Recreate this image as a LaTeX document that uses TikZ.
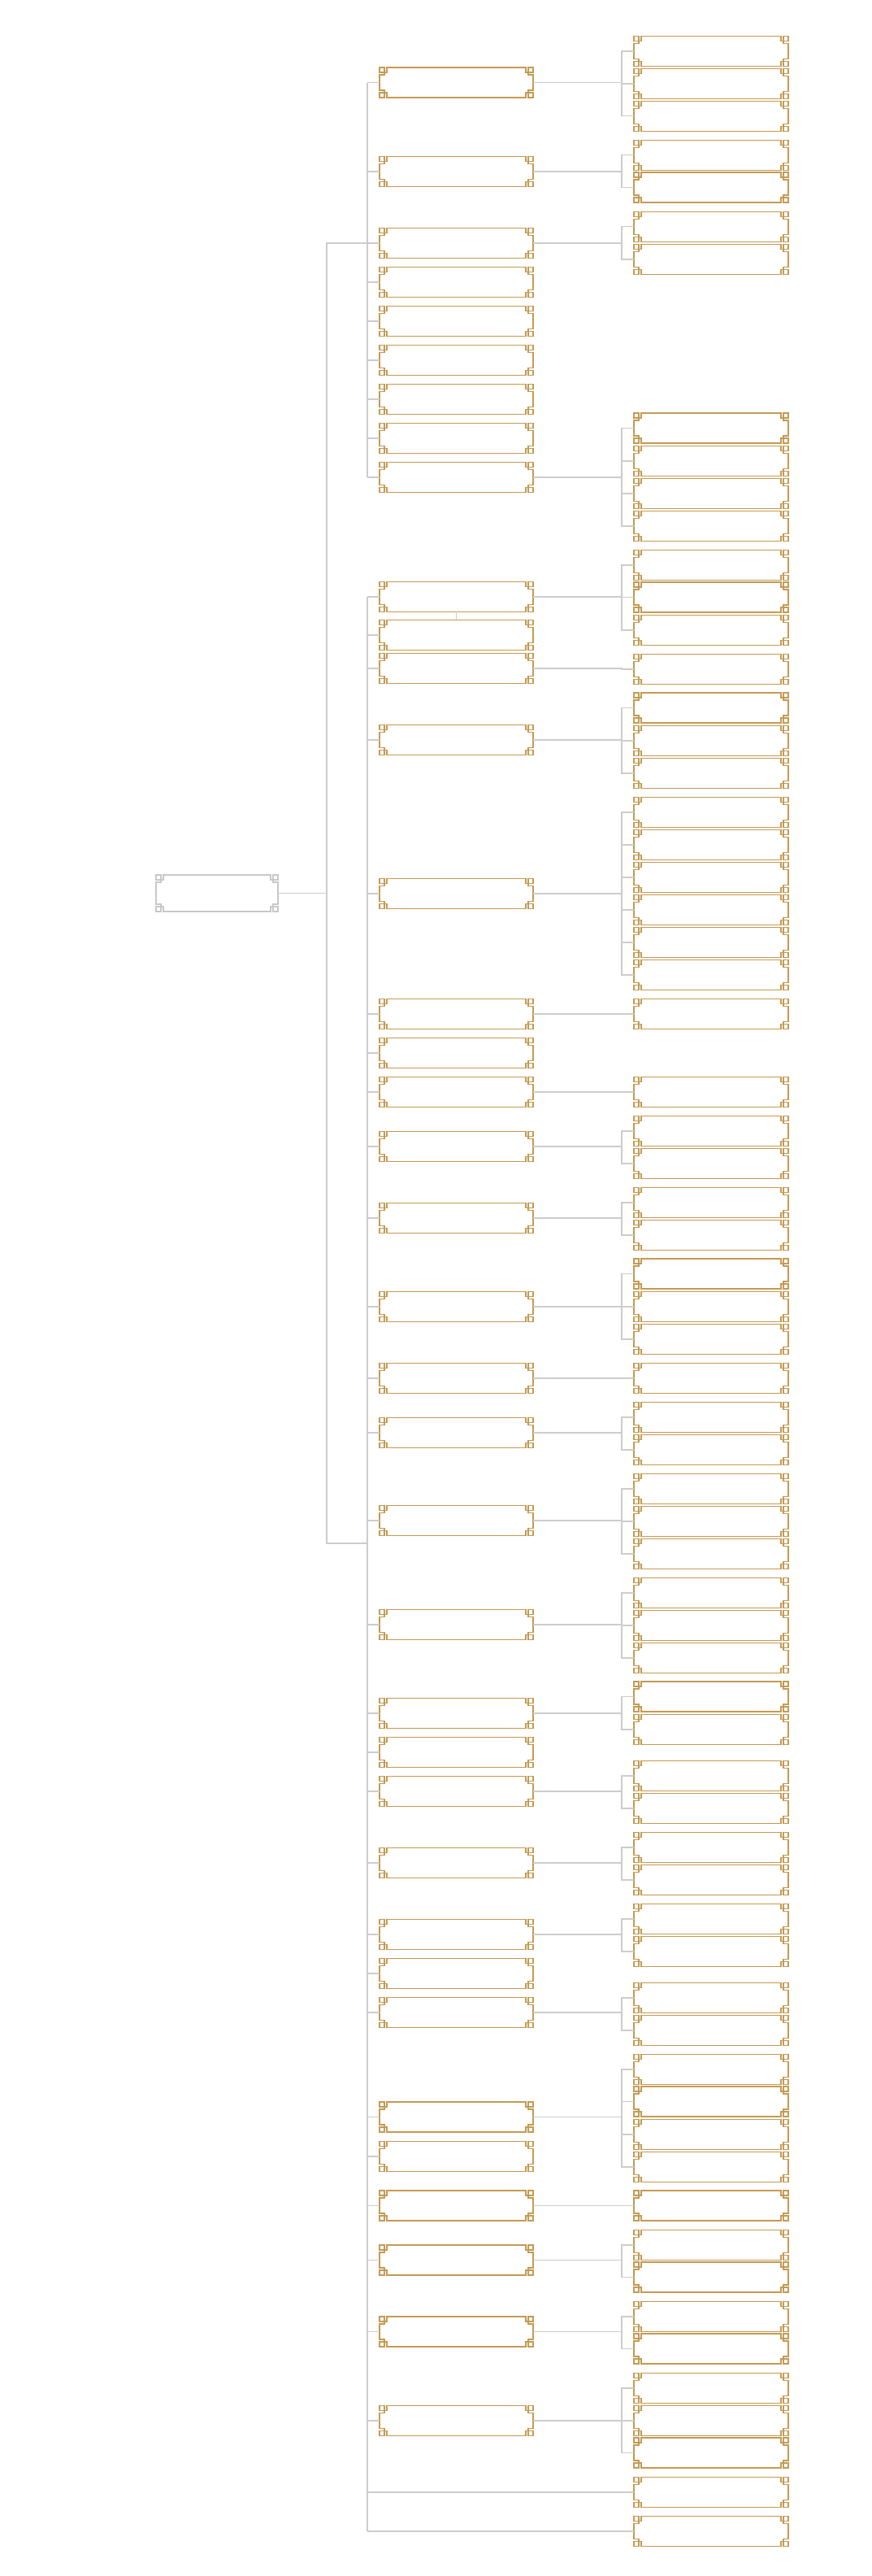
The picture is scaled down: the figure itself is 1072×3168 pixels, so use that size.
\documentclass[tikz,border=0pt]{standalone}
\usepackage{xcolor}
\usepackage{tikz}
\usetikzlibrary{positioning}
\definecolor{fretgold}{HTML}{C49A52}
\definecolor{linkgray}{HTML}{CCCCCC}
\definecolor{rootgray}{HTML}{C8C8C8}

% fret frame round a node: name, width, height (px), colour
\newcommand{\fretframe}[4]{%
  \begin{scope}[shift={(#1.north west)}, draw=#4, line width=0.75pt]
    \draw (9,0) -- (#2-9,0) -- (#2-9,6) -- (#2-6,6) -- (#2-6,9) -- (#2,9)
      -- (#2,#3-9) -- (#2-6,#3-9) -- (#2-6,#3-6) -- (#2-9,#3-6) -- (#2-9,#3)
      -- (9,#3) -- (9,#3-6) -- (6,#3-6) -- (6,#3-9) -- (0,#3-9)
      -- (0,9) -- (6,9) -- (6,6) -- (9,6) -- cycle;
    \draw (0,0) rectangle (6,6) (#2-6,0) rectangle (#2,6)
      (#2-6,#3-6) rectangle (#2,#3) (0,#3-6) rectangle (6,#3);
  \end{scope}}

\tikzset{
  rootbox/.style={rectangle, inner sep=0pt, outer sep=0pt, minimum width=75pt, minimum height=22.5pt},
  mainbox/.style={rectangle, inner sep=0pt, outer sep=0pt, minimum width=94.5pt, minimum height=18.5pt},
  leafbox/.style={rectangle, inner sep=0pt, outer sep=0pt, minimum width=95pt, minimum height=18.5pt},
  link/.style={draw=linkgray, line width=0.7pt}
}

\begin{document}
\begin{tikzpicture}[x=0.5pt, y=-0.5pt]
  \fill[white] (0,0) rectangle (1072,3168);
  \useasboundingbox (0,0) rectangle (1072,3168);
  \coordinate (t0) at (402,0);
  \coordinate (t1) at (452,0);
  \coordinate (t2) at (765,0);
  \coordinate (j1) at (452,1898);

  \node[rootbox] (root) at (267,1098.5) {};
  \fretframe{root}{150}{45}{rootgray}

  \foreach \y [count=\i] in {101.6,211.0,298.8,346.8,394.8,442.9,490.9,538.8,586.8,
      733.9,780.9,821.9,909.8,1098.9,1246.8,1294.8,1342.9,1409.9,1497.9,1606.8,
      1695.0,1761.8,1869.8,1997.9,2106.9,2154.9,2202.8,2291.0,2378.8,2426.8,
      2474.8,2603.6,2651.8,2712.7,2779.7,2867.7,2976.8} {
    \node[mainbox] (m\i) at (561.5,\y) {};
    \fretframe{m\i}{189}{37}{fretgold}
  }
  \node[leafbox] (tail1) at (875,3064.8) {};
  \fretframe{tail1}{190}{37}{fretgold}
  \node[leafbox] (tail2) at (875,3112.8) {};
  \fretframe{tail2}{190}{37}{fretgold}

  % root to the two branches
  \draw[link] (root.east) -- (root.east -| t0) |- (m3.west);
  \draw[link] (root.east -| t0) |- (j1);

  % first branch
  \draw[link] (m1.west -| t1) -- (m9.west -| t1);
  \foreach \i in {1,...,9}
    \draw[link] (m\i.west) -- (m\i.west -| t1);

  % second branch
  \draw[link] (m10.west -| t1) -- (tail2.west -| t1);
  \foreach \i in {10,...,37}
    \draw[link] (m\i.west) -- (m\i.west -| t1);
  \draw[link] (tail1.west) -- (tail1.west -| t1);
  \draw[link] (tail2.west) -- (tail2.west -| t1);
  \draw[link] (m10.south) -- (m11.north);

  % leaves
  \foreach \p/\ys in {1/{63.0,103.0,142.8}, 2/{190.8,230.7}, 3/{278.8,318.9},
      9/{526.6,566.8,606.8,646.9}, 10/{694.8,734.7,774.8}, 12/{822.9},
      13/{870.7,910.9,950.8}, 14/{998.9,1039.0,1078.9,1118.9,1158.8,1198.8},
      15/{1246.8}, 17/{1342.9}, 18/{1390.8,1430.9}, 19/{1478.9,1518.9},
      20/{1566.6,1606.8,1646.8}, 21/{1695.0}, 22/{1742.9,1782.8},
      23/{1830.9,1870.8,1910.8}, 24/{1959.0,1998.9,2038.9}, 25/{2086.6,2126.8},
      27/{2183.9,2223.8}, 28/{2271.8,2311.8}, 29/{2360.0,2399.8},
      31/{2457.1,2496.9}, 32/{2544.8,2584.7,2625.0,2664.9}, 34/{2712.7},
      35/{2760.9,2800.7}, 36/{2848.9,2888.7}, 37/{2936.9,2976.8,3016.6}} {
    \foreach \y [count=\k] in \ys {
      \node[leafbox] (s\p-\k) at (875,\y) {};
      \fretframe{s\p-\k}{190}{37}{fretgold}
      \draw[link] (m\p.east) -- (m\p.east -| t2) |- (s\p-\k.west);
    }
  }
\end{tikzpicture}
\end{document}
